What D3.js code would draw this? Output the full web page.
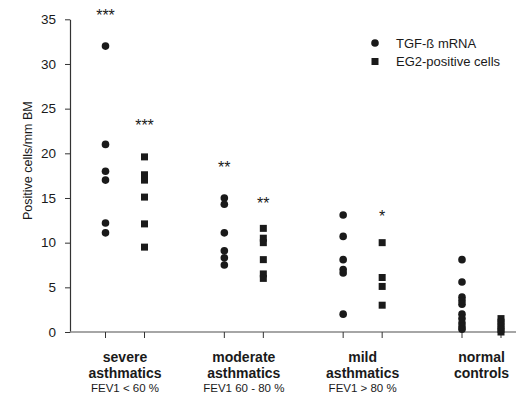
<!DOCTYPE html>
<html>
<head>
<meta charset="utf-8">
<script src="https://cdn.jsdelivr.net/npm/d3@7/dist/d3.min.js"></script>
<style>
  html, body { margin: 0; padding: 0; background: #fff; }
  svg { display: block; }
  text { font-family: "Liberation Sans", Arial, Helvetica, sans-serif; fill: #1a1a1a; }
</style>
</head>
<body>
<svg id="chart" width="519" height="394"></svg>
<script>
// ---- data ----
const groups = ["severe", "moderate", "mild", "normal"];
const groupLine1 = ["severe", "moderate", "mild", "normal"];
const groupLine2 = ["asthmatics", "asthmatics", "asthmatics", "controls"];
const groupLine3 = ["FEV1 < 60 %", "FEV1 60 - 80 %", "FEV1 > 80 %", ""];
const seriesNames = ["TGF-ß mRNA", "EG2-positive cells"];

const tgfValues = [
  [32, 21, 18, 17, 12.2, 11.1],
  [15, 14.3, 11.1, 9.1, 8.3, 7.5],
  [13.1, 10.7, 8.1, 7.0, 6.6, 2.0],
  [8.1, 5.6, 3.9, 3.5, 3.1, 2.0, 1.5, 1.0, 0.6, 0.3]
];
const eg2Values = [
  [19.6, 17.6, 17.0, 15.1, 12.1, 9.5],
  [11.6, 10.5, 10.0, 8.1, 6.5, 6.0],
  [10.0, 6.1, 5.1, 3.0],
  [1.5, 1.1, 0.7, 0.3, 0]
];
// significance annotations: [group index, series index, label, value position]
const sigGroup = [0, 0, 1, 1, 2];
const sigSeries = [0, 1, 0, 1, 1];
const sigLabel = ["***", "***", "**", "**", "*"];
const sigValue = [35.8, 23.5, 18.8, 14.8, 13.3];

const yTicks = [0, 5, 10, 15, 20, 25, 30, 35];

// ---- layout ----
const svg = d3.select("#chart");
const plotLeft = 70, plotRight = 516, plotTop = 19.3, plotBottom = 332;
const ink = "#1a1a1a";

const y = d3.scaleLinear().domain([0, 35]).range([plotBottom, plotTop]);
const xg = d3.scalePoint().domain(groups).range([125, 481.5]);
const xs = d3.scalePoint().domain(seriesNames).range([-19.5, 19.5]);

// y axis
const yAxis = d3.axisLeft(y).tickValues(yTicks).tickSize(5).tickSizeOuter(0).tickPadding(9);
const gy = svg.append("g").attr("transform", `translate(${plotLeft},0)`).call(yAxis);
gy.select(".domain").attr("stroke", "#333").attr("stroke-width", 1.2);
gy.selectAll(".tick line").attr("stroke", "#333");
gy.selectAll(".tick text").attr("font-size", 13.5).attr("fill", ink)
  .attr("font-family", "'Liberation Sans', Arial, sans-serif");

// x axis line
svg.append("line").attr("x1", plotLeft).attr("x2", plotRight)
  .attr("y1", plotBottom).attr("y2", plotBottom)
  .attr("stroke", "#888").attr("stroke-width", 1.5);

// x ticks at each column
const cols = [];
groups.forEach(g => seriesNames.forEach(s => cols.push({g, s})));
svg.selectAll("line.xtick").data(cols).join("line")
  .attr("class", "xtick")
  .attr("x1", d => xg(d.g) + xs(d.s)).attr("x2", d => xg(d.g) + xs(d.s))
  .attr("y1", plotBottom).attr("y2", plotBottom + 6)
  .attr("stroke", "#333").attr("stroke-width", 1);

// y axis title
svg.append("text")
  .attr("transform", `translate(31.5,${(plotTop + plotBottom) / 2 - 15}) rotate(-90)`)
  .attr("text-anchor", "middle").attr("font-size", 12.5)
  .text("Positive cells/mm BM");

// points
const circlePts = [];
tgfValues.forEach((arr, gi) => arr.forEach(v => circlePts.push({g: groups[gi], v})));
const squarePts = [];
eg2Values.forEach((arr, gi) => arr.forEach(v => squarePts.push({g: groups[gi], v})));

svg.selectAll("circle.tgf").data(circlePts).join("circle")
  .attr("class", "tgf")
  .attr("cx", d => xg(d.g) + xs(seriesNames[0]))
  .attr("cy", d => y(d.v))
  .attr("r", 3.8).attr("fill", ink);

const sq = 7;
svg.selectAll("rect.eg2").data(squarePts).join("rect")
  .attr("class", "eg2")
  .attr("x", d => xg(d.g) + xs(seriesNames[1]) - sq / 2)
  .attr("y", d => y(d.v) - sq / 2)
  .attr("width", sq).attr("height", sq).attr("fill", ink);

// significance stars
svg.selectAll("text.sig").data(sigLabel).join("text")
  .attr("class", "sig")
  .attr("x", (d, i) => xg(groups[sigGroup[i]]) + xs(seriesNames[sigSeries[i]]))
  .attr("y", (d, i) => y(sigValue[i]))
  .attr("dy", "0.55em")
  .attr("text-anchor", "middle").attr("font-size", 16)
  .text(d => d);

// group labels
const lab = svg.append("g");
groups.forEach((g, i) => {
  lab.append("text").attr("x", xg(g)).attr("y", 362).attr("text-anchor", "middle")
    .attr("font-size", 14).attr("font-weight", "bold").text(groupLine1[i]);
  lab.append("text").attr("x", xg(g)).attr("y", 378).attr("text-anchor", "middle")
    .attr("font-size", 14).attr("font-weight", "bold").text(groupLine2[i]);
  if (groupLine3[i]) {
    lab.append("text").attr("x", xg(g)).attr("y", 392).attr("text-anchor", "middle")
      .attr("font-size", 11.5).text(groupLine3[i]);
  }
});

// legend
const legX = 375, legY0 = 43, legDy = 18.5;
const leg = svg.append("g");
leg.append("circle").attr("cx", legX).attr("cy", legY0).attr("r", 3.8).attr("fill", ink);
leg.append("rect").attr("x", legX - sq / 2).attr("y", legY0 + legDy - sq / 2)
  .attr("width", sq).attr("height", sq).attr("fill", ink);
seriesNames.forEach((s, i) => {
  leg.append("text").attr("x", legX + 21).attr("y", legY0 + i * legDy)
    .attr("dy", "0.35em").attr("font-size", 13).text(s);
});
</script>
</body>
</html>
